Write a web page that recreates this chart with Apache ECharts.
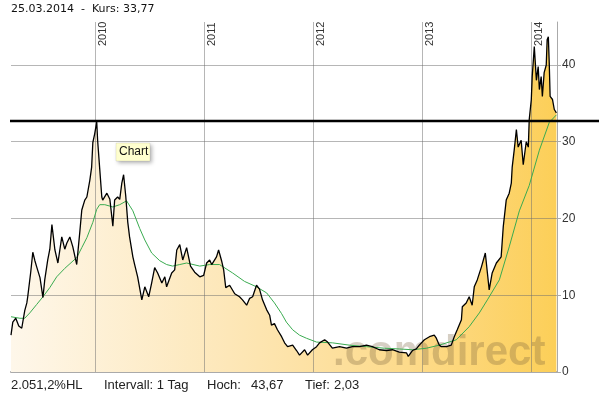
<!DOCTYPE html>
<html><head><meta charset="utf-8">
<script src="https://cdn.jsdelivr.net/npm/echarts@6/dist/echarts.min.js"></script>
<style>html,body{margin:0;padding:0;background:#fff}#c{width:599px;height:395px}</style>
</head><body><div id="c"></div>
<script>
// ---- data ----
const priceDates = ['2009-03-25','2009-03-31','2009-04-10','2009-04-20','2009-04-30','2009-05-10','2009-05-17','2009-05-20','2009-05-30','2009-06-06','2009-06-13','2009-06-19','2009-06-30','2009-07-10','2009-07-16','2009-07-26','2009-08-02','2009-08-09','2009-08-19','2009-08-29','2009-09-11','2009-09-21','2009-09-28','2009-10-08','2009-10-18','2009-10-31','2009-11-10','2009-11-17','2009-11-27','2009-12-04','2009-12-14','2009-12-20','2009-12-24','2009-12-30','2010-01-06','2010-01-09','2010-01-16','2010-01-23','2010-01-26','2010-02-09','2010-02-19','2010-03-01','2010-03-07','2010-03-17','2010-03-24','2010-03-31','2010-04-06','2010-04-13','2010-04-20','2010-04-26','2010-05-07','2010-05-13','2010-05-23','2010-06-06','2010-06-16','2010-06-29','2010-07-09','2010-07-19','2010-07-29','2010-08-12','2010-08-22','2010-08-28','2010-09-14','2010-09-24','2010-10-01','2010-10-11','2010-10-21','2010-11-03','2010-11-16','2010-11-30','2010-12-17','2010-12-30','2011-01-09','2011-01-19','2011-01-26','2011-02-11','2011-02-18','2011-02-28','2011-03-07','2011-03-14','2011-03-27','2011-04-13','2011-04-29','2011-05-09','2011-05-23','2011-06-02','2011-06-12','2011-06-25','2011-07-05','2011-07-15','2011-07-29','2011-08-08','2011-08-14','2011-08-24','2011-09-03','2011-09-17','2011-09-27','2011-10-07','2011-10-24','2011-11-06','2011-11-16','2011-12-03','2011-12-13','2011-12-29','2012-01-12','2012-01-22','2012-02-08','2012-02-18','2012-03-05','2012-03-29','2012-04-21','2012-05-11','2012-06-04','2012-06-27','2012-07-17','2012-08-09','2012-09-02','2012-09-22','2012-10-15','2012-11-08','2012-11-14','2012-11-28','2012-12-11','2012-12-21','2013-01-07','2013-01-24','2013-02-09','2013-02-16','2013-02-26','2013-03-05','2013-03-22','2013-04-07','2013-04-17','2013-04-27','2013-05-11','2013-05-14','2013-05-27','2013-06-06','2013-06-16','2013-06-23','2013-07-03','2013-07-17','2013-07-30','2013-08-06','2013-08-12','2013-08-22','2013-09-05','2013-09-21','2013-09-28','2013-10-08','2013-10-18','2013-10-25','2013-10-28','2013-11-04','2013-11-11','2013-11-17','2013-11-27','2013-12-04','2013-12-14','2013-12-21','2013-12-24','2013-12-31','2014-01-03','2014-01-07','2014-01-10','2014-01-13','2014-01-17','2014-01-23','2014-01-27','2014-02-02','2014-02-06','2014-02-12','2014-02-19','2014-02-22','2014-02-26','2014-03-01','2014-03-04','2014-03-12','2014-03-18','2014-03-25'];
const priceValues = [4.8,6.5,7.0,6.0,5.7,8.0,9.0,9.8,13.0,15.6,14.5,13.7,12.3,9.7,12.0,14.6,16.0,19.2,15.9,14.2,17.6,16.0,16.8,17.6,16.3,14.0,18.1,21.1,22.4,22.8,25.0,26.7,29.9,31.0,32.6,30.2,26.5,22.8,22.4,23.3,22.5,19.0,22.4,22.8,22.5,24.6,25.7,23.0,19.5,17.6,15.0,14.0,12.4,9.4,11.1,9.8,11.6,13.6,12.9,11.6,12.4,11.1,12.9,13.3,15.9,16.6,14.6,16.2,13.8,13.0,12.4,12.6,14.2,14.6,14.0,15.0,15.9,14.5,13.3,11.0,11.3,10.2,9.8,9.4,8.7,9.6,9.8,11.3,10.8,9.4,8.1,7.4,6.1,6.3,5.5,4.6,3.8,3.3,3.5,2.8,2.2,2.9,2.2,2.9,3.3,3.8,4.2,3.9,3.1,3.3,3.1,3.3,3.3,3.5,3.3,2.9,2.8,2.9,2.6,2.5,2.03,2.8,3.0,3.5,4.2,4.6,4.8,4.4,3.5,3.3,3.3,3.5,4.6,5.5,6.8,8.5,9.0,9.8,8.7,11.1,12.0,13.7,15.5,12.9,10.7,12.9,14.2,15.0,18.9,22.4,23.3,24.6,26.7,29.0,31.6,29.3,30.2,27.0,30.0,29.3,32.9,35.5,38.5,40.7,42.4,40.5,38.0,39.8,36.8,38.5,35.9,39.0,40.0,43.3,43.67,40.3,35.9,35.5,34.2,33.77];
const maDates = ['2009-03-25','2009-04-24','2009-05-10','2009-05-27','2009-06-19','2009-07-10','2009-08-02','2009-08-25','2009-09-21','2009-10-31','2009-11-17','2009-12-04','2009-12-24','2010-01-06','2010-01-16','2010-02-02','2010-03-01','2010-03-24','2010-04-16','2010-05-07','2010-05-30','2010-06-16','2010-07-09','2010-08-05','2010-08-28','2010-09-17','2010-10-11','2010-11-03','2010-12-17','2011-01-19','2011-02-21','2011-04-06','2011-05-16','2011-06-25','2011-07-29','2011-08-24','2011-09-17','2011-10-03','2011-10-24','2011-11-16','2011-12-09','2012-01-12','2012-03-05','2012-05-01','2012-06-27','2012-08-26','2012-10-15','2012-11-28','2013-01-14','2013-02-26','2013-04-24','2013-06-06','2013-07-10','2013-08-06','2013-09-15','2013-10-18','2013-11-21','2013-12-24','2014-01-27','2014-03-01','2014-03-25'];
const maValues = [7.2,7.0,7.0,7.7,8.8,9.8,11.0,12.4,13.5,14.9,16.2,17.5,19.5,21.2,21.8,21.8,21.5,21.8,22.3,21.0,18.7,17.2,15.5,14.5,14.0,13.8,14.0,14.2,13.8,14.0,14.0,12.9,11.8,11.1,10.3,9.0,7.6,6.5,5.5,4.8,4.4,3.9,3.8,3.5,3.3,3.1,3.0,2.9,3.1,3.5,4.2,5.9,7.7,9.4,12.0,16.3,21.0,24.3,28.9,32.5,33.5];
const yTicks = [0, 10, 20, 30, 40];
const yearLabels = ['2010', '2011', '2012', '2013', '2014'];
const referenceLevel = 32.7;
const titleText = '25.03.2014  -  Kurs: 33,77';
const footerTexts = ['2.051,2%HL', 'Intervall: 1 Tag', 'Hoch:', '43,67', 'Tief:', '2,03'];
const tooltipText = 'Chart';
const watermarkText = '.comdirect';

// ---- chart ----
const chart = echarts.init(document.getElementById('c'), null, {renderer: 'canvas'});
const priceData = priceDates.map((d, i) => [d, priceValues[i]]);
const maData = maDates.map((d, i) => [d, maValues[i]]);
const yearTs = yearLabels.map(y => new Date(+y, 0, 1).getTime());
const gridColor = 'rgba(110,110,110,0.5)';

chart.setOption({
  animation: false,
  grid: {left: 11, right: 42, top: 22, bottom: 23},
  xAxis: {
    type: 'time', min: '2009-03-25', max: '2014-03-27',
    axisLine: {show: true, lineStyle: {color: '#aaaaaa', width: 2}},
    axisTick: {show: false}, axisLabel: {show: false}, splitLine: {show: false}
  },
  yAxis: {
    type: 'value', position: 'right', min: 0, max: 45.6,
    axisLine: {show: true, lineStyle: {color: '#aaaaaa', width: 1}},
    axisTick: {show: true, length: 4, customValues: yTicks, lineStyle: {color: '#aaaaaa'}},
    axisLabel: {customValues: yTicks, color: '#333', fontSize: 12, fontFamily: 'Liberation Sans', margin: 5},
    splitLine: {show: false}
  },
  series: [
    {
      name: 'fill', type: 'line', data: priceData, showSymbol: false, silent: true, z: 1,
      lineStyle: {width: 0, opacity: 0},
      areaStyle: {
        opacity: 1,
        color: new echarts.graphic.LinearGradient(0, 0, 1, 0, [
          {offset: 0, color: '#fef7ea'},
          {offset: 0.4, color: '#fde7b8'},
          {offset: 0.75, color: '#fdda88'},
          {offset: 1, color: '#fccf58'}
        ])
      },
      markLine: {
        silent: true, symbol: 'none', z: 5, animation: false,
        label: {show: false},
        lineStyle: {color: gridColor, type: 'solid', width: 1},
        data: yTicks.filter(v => v > 0).map(v => ({yAxis: v})).concat(yearTs.map(t => ({xAxis: t})))
      }
    },
    {
      name: 'MA', type: 'line', data: maData, showSymbol: false, z: 9,
      lineStyle: {color: '#3aab50', width: 1}
    },
    {
      name: 'Kurs', type: 'line', data: priceData, showSymbol: false, z: 10,
      lineStyle: {color: '#000', width: 1.3}
    }
  ]
});

const refY = chart.convertToPixel({yAxisIndex: 0}, referenceLevel);
const gfx = [];
// watermark
gfx.push({type: 'text', left: 333, top: 332, z: 3, silent: true,
  style: {text: watermarkText, font: 'bold 42px "Liberation Sans"', fill: 'rgba(120,95,60,0.3)'}});
// reference line
gfx.push({type: 'line', z: 20, shape: {x1: 10, y1: refY, x2: 599, y2: refY},
  style: {stroke: '#000', lineWidth: 2.5}});
// year labels
yearTs.forEach((t, i) => {
  const px = chart.convertToPixel({xAxisIndex: 0}, t);
  gfx.push({type: 'text', x: px + 2, y: 46, rotation: Math.PI / 2, z: 15,
    style: {text: yearLabels[i], font: '11px "Liberation Sans"', fill: '#333', textAlign: 'left', textVerticalAlign: 'top'}});
});
// title
gfx.push({type: 'text', x: 11, y: 4, z: 15,
  style: {text: titleText, font: '11px "DejaVu Sans"', fill: '#111', textVerticalAlign: 'top'}});
// footer
const footerX = [11, 104, 207, 251, 305, 334];
footerTexts.forEach((s, i) => {
  gfx.push({type: 'text', x: footerX[i], y: 385, z: 15,
    style: {text: s, font: '13px "Liberation Sans"', fill: '#222', textVerticalAlign: 'middle'}});
});
// tooltip-like box
gfx.push({type: 'rect', z: 25, shape: {x: 116, y: 143, width: 34, height: 18},
  style: {fill: '#ffffcf', stroke: 'rgba(0,0,0,0.08)', lineWidth: 1, shadowBlur: 4, shadowOffsetX: 2, shadowOffsetY: 2, shadowColor: 'rgba(0,0,0,0.3)'}});
gfx.push({type: 'text', z: 26, x: 119, y: 152,
  style: {text: tooltipText, font: '12px "Liberation Sans"', fill: '#111', textVerticalAlign: 'middle'}});

chart.setOption({graphic: gfx});
</script></body></html>
